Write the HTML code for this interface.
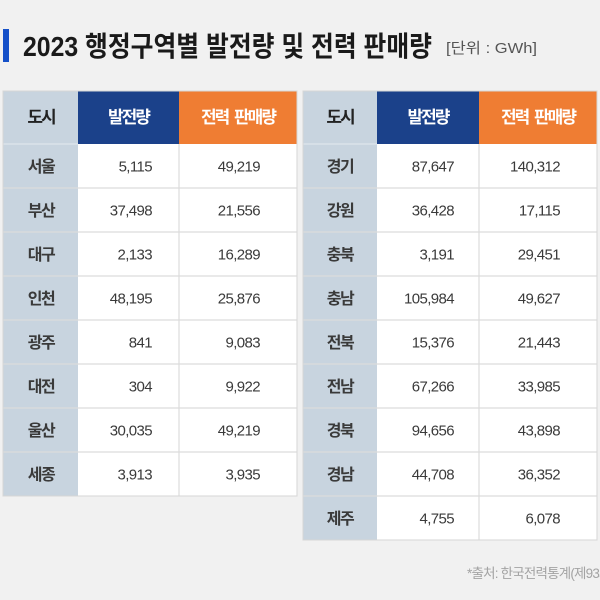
<!DOCTYPE html>
<html>
<head>
<meta charset="utf-8">
<style>
html,body{margin:0;padding:0;background:#f1f1f1;}
svg{display:block;}
.k{font-family:"Liberation Sans","Noto Sans CJK KR",sans-serif;}
.num{font-family:"Liberation Sans","Noto Sans CJK KR",sans-serif;font-size:15px;fill:#3a3a3a;text-anchor:end;letter-spacing:-0.6px;}
.city{font-family:"Liberation Sans","Noto Sans CJK KR",sans-serif;font-size:16px;font-weight:bold;fill:#3a3a3a;text-anchor:middle;letter-spacing:-1.5px;}
.hd{font-family:"Liberation Sans","Noto Sans CJK KR",sans-serif;font-size:17px;font-weight:bold;text-anchor:middle;letter-spacing:-2px;word-spacing:3px;}
</style>
</head>
<body>
<svg width="600" height="600" viewBox="0 0 600 600" xmlns="http://www.w3.org/2000/svg">
<rect x="0" y="0" width="600" height="600" fill="#f1f1f1"/>
<!-- title -->
<rect x="3" y="29" width="6" height="33" fill="#1550c8"/>
<text class="k" x="23" y="56" font-size="28" font-weight="bold" fill="#1a1a1a" textLength="409" lengthAdjust="spacingAndGlyphs">2023 행정구역별 발전량 및 전력 판매량</text>
<text class="k" x="446" y="53" font-size="15" fill="#555" textLength="91" lengthAdjust="spacingAndGlyphs">[단위 : GWh]</text>

<!-- LEFT TABLE -->
<rect x="3" y="91" width="294" height="405" fill="#ffffff" stroke="#d6d6d6" stroke-width="1"/>
<rect x="3" y="91" width="75" height="405" fill="#c8d4df"/>
<rect x="78" y="91" width="101" height="53" fill="#1b418a"/>
<rect x="179" y="91" width="118" height="53" fill="#ef7d33"/>
<g stroke="#dcdcdc" stroke-width="1.2">
<line x1="3" y1="188" x2="297" y2="188"/>
<line x1="3" y1="232" x2="297" y2="232"/>
<line x1="3" y1="276" x2="297" y2="276"/>
<line x1="3" y1="320" x2="297" y2="320"/>
<line x1="3" y1="364" x2="297" y2="364"/>
<line x1="3" y1="408" x2="297" y2="408"/>
<line x1="3" y1="452" x2="297" y2="452"/>
<line x1="179" y1="144" x2="179" y2="496"/>
</g>
<line x1="3" y1="144" x2="78" y2="144" stroke="#dfe5ec" stroke-width="1.2"/>
<rect x="3" y="91" width="294" height="405" fill="none" stroke="#d6d6d6" stroke-width="1"/>
<text class="hd" x="41" y="123" fill="#222">도시</text>
<text class="hd" x="128.5" y="123" fill="#ffffff">발전량</text>
<text class="hd" x="238" y="123" fill="#ffffff">전력 판매량</text>

<g>
<text class="city" x="41" y="172">서울</text>
<text class="city" x="41" y="216">부산</text>
<text class="city" x="41" y="260">대구</text>
<text class="city" x="41" y="304">인천</text>
<text class="city" x="41" y="348">광주</text>
<text class="city" x="41" y="392">대전</text>
<text class="city" x="41" y="436">울산</text>
<text class="city" x="41" y="480">세종</text>
</g>
<g>
<text class="num" x="152" y="171.5">5,115</text>
<text class="num" x="152" y="215.5">37,498</text>
<text class="num" x="152" y="259.5">2,133</text>
<text class="num" x="152" y="303.5">48,195</text>
<text class="num" x="152" y="347.5">841</text>
<text class="num" x="152" y="391.5">304</text>
<text class="num" x="152" y="435.5">30,035</text>
<text class="num" x="152" y="479.5">3,913</text>
<text class="num" x="260" y="171.5">49,219</text>
<text class="num" x="260" y="215.5">21,556</text>
<text class="num" x="260" y="259.5">16,289</text>
<text class="num" x="260" y="303.5">25,876</text>
<text class="num" x="260" y="347.5">9,083</text>
<text class="num" x="260" y="391.5">9,922</text>
<text class="num" x="260" y="435.5">49,219</text>
<text class="num" x="260" y="479.5">3,935</text>
</g>

<!-- RIGHT TABLE -->
<rect x="303" y="91" width="294" height="449" fill="#ffffff"/>
<rect x="303" y="91" width="74" height="449" fill="#c8d4df"/>
<rect x="377" y="91" width="102" height="53" fill="#1b418a"/>
<rect x="479" y="91" width="118" height="53" fill="#ef7d33"/>
<g stroke="#dcdcdc" stroke-width="1.2">
<line x1="303" y1="188" x2="597" y2="188"/>
<line x1="303" y1="232" x2="597" y2="232"/>
<line x1="303" y1="276" x2="597" y2="276"/>
<line x1="303" y1="320" x2="597" y2="320"/>
<line x1="303" y1="364" x2="597" y2="364"/>
<line x1="303" y1="408" x2="597" y2="408"/>
<line x1="303" y1="452" x2="597" y2="452"/>
<line x1="303" y1="496" x2="597" y2="496"/>
<line x1="479" y1="144" x2="479" y2="540"/>
</g>
<line x1="303" y1="144" x2="377" y2="144" stroke="#dfe5ec" stroke-width="1.2"/>
<rect x="303" y="91" width="294" height="449" fill="none" stroke="#d6d6d6" stroke-width="1"/>
<text class="hd" x="340" y="123" fill="#222">도시</text>
<text class="hd" x="428" y="123" fill="#ffffff">발전량</text>
<text class="hd" x="538" y="123" fill="#ffffff">전력 판매량</text>

<g>
<text class="city" x="340" y="172">경기</text>
<text class="city" x="340" y="216">강원</text>
<text class="city" x="340" y="260">충북</text>
<text class="city" x="340" y="304">충남</text>
<text class="city" x="340" y="348">전북</text>
<text class="city" x="340" y="392">전남</text>
<text class="city" x="340" y="436">경북</text>
<text class="city" x="340" y="480">경남</text>
<text class="city" x="340" y="524">제주</text>
</g>
<g>
<text class="num" x="454" y="171.5">87,647</text>
<text class="num" x="454" y="215.5">36,428</text>
<text class="num" x="454" y="259.5">3,191</text>
<text class="num" x="454" y="303.5">105,984</text>
<text class="num" x="454" y="347.5">15,376</text>
<text class="num" x="454" y="391.5">67,266</text>
<text class="num" x="454" y="435.5">94,656</text>
<text class="num" x="454" y="479.5">44,708</text>
<text class="num" x="454" y="523.5">4,755</text>
<text class="num" x="560" y="171.5">140,312</text>
<text class="num" x="560" y="215.5">17,115</text>
<text class="num" x="560" y="259.5">29,451</text>
<text class="num" x="560" y="303.5">49,627</text>
<text class="num" x="560" y="347.5">21,443</text>
<text class="num" x="560" y="391.5">33,985</text>
<text class="num" x="560" y="435.5">43,898</text>
<text class="num" x="560" y="479.5">36,352</text>
<text class="num" x="560" y="523.5">6,078</text>
</g>

<!-- source -->
<text class="k" x="467" y="578" font-size="13.5" fill="#a3a3a3" letter-spacing="-0.8">*출처: 한국전력통계(제93회)</text>
</svg>
</body>
</html>
